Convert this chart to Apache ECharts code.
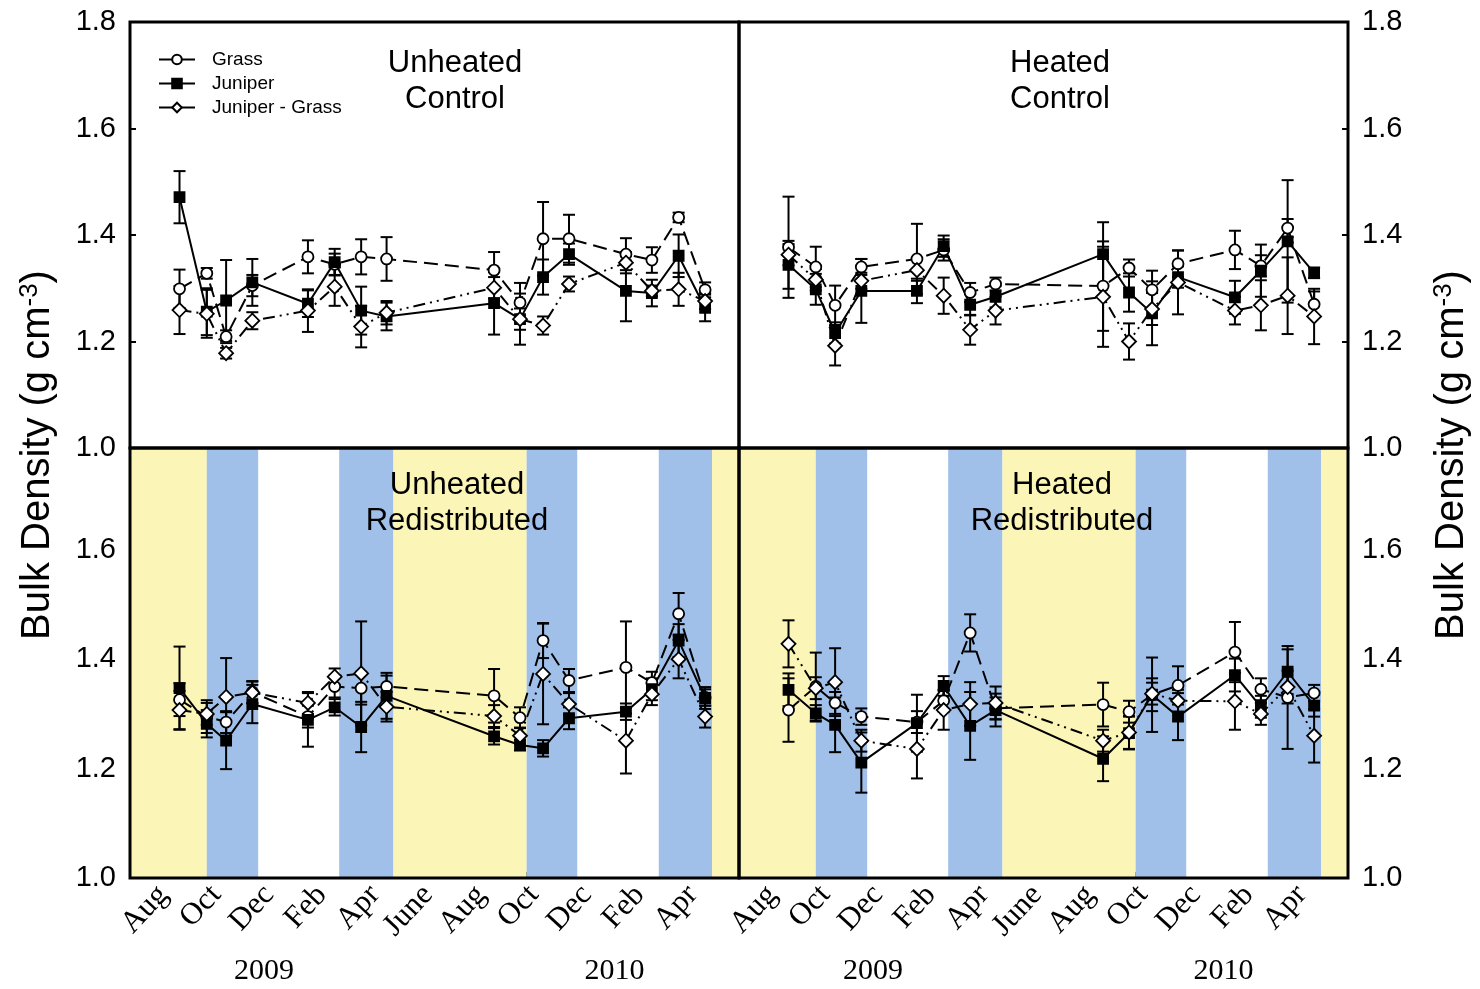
<!DOCTYPE html>
<html>
<head>
<meta charset="utf-8">
<script src="https://cdn.jsdelivr.net/npm/echarts@6/dist/echarts.min.js"></script>
<style>
  html, body { margin: 0; padding: 0; background: #fff; }
  #chart { width: 1480px; height: 989px; }
</style>
</head>
<body>
<div id="chart"></div>
<script>
// Sampling dates, in months counted from 1 Jan 2009 (7 = Aug 2009)
const sampleMonths = [7.87, 8.90, 9.63, 10.62, 12.72, 13.73, 14.73, 15.69, 19.75, 20.73, 21.60, 22.58, 24.73, 25.71, 26.72, 27.72];

// Axis ticks and labels
const monthTicks = [7, 8, 9, 10, 11, 12, 13, 14, 15, 16, 17, 18, 19, 20, 21, 22, 23, 24, 25, 26, 27, 28];
const monthLabelValues = [7, 9, 11, 13, 15, 17, 19, 21, 23, 25, 27];
const monthLabelNames = ['Aug', 'Oct', 'Dec', 'Feb', 'Apr', 'June', 'Aug', 'Oct', 'Dec', 'Feb', 'Apr'];
const yearLabelValues = [11.06, 24.3];
const yearLabelNames = ['2009', '2010'];
const topYTicks = [1.0, 1.2, 1.4, 1.6, 1.8];
const bottomYTicks = [1.0, 1.2, 1.4, 1.6];

// Season shading for the redistributed panels: [start month, end month, season]
const seasonBands = [
  [6, 8.9, 'summer'], [8.9, 10.85, 'fall'], [10.85, 13.9, 'winter'], [13.9, 15.95, 'spring'],
  [15.95, 20.98, 'summer'], [20.98, 22.9, 'fall'], [22.9, 25.97, 'winter'], [25.97, 27.98, 'spring'],
  [27.98, 29, 'summer']
];
const seasonColors = { summer: '#FBF6B7', fall: '#A0C0E9', winter: '#FFFFFF', spring: '#A0C0E9' };

// Unheated Control: means and standard errors
const ucGrass = [1.299, 1.328, 1.209, 1.305, 1.359, 1.345, 1.359, 1.355, 1.334, 1.273, 1.393, 1.393, 1.364, 1.353, 1.433, 1.297];
const ucGrassErr = [0.036, 0.010, 0.012, 0.020, 0.031, 0.020, 0.033, 0.041, 0.034, 0.037, 0.069, 0.045, 0.030, 0.024, 0.009, 0.014];
const ucJuniper = [1.471, 1.256, 1.277, 1.311, 1.271, 1.349, 1.258, 1.247, 1.272, 1.242, 1.321, 1.364, 1.295, 1.291, 1.361, 1.263];
const ucJuniperErr = [0.049, 0.044, 0.076, 0.044, 0.025, 0.025, 0.045, 0.026, 0.059, 0.048, 0.033, 0.020, 0.057, 0.025, 0.040, 0.025];
const ucJunGrass = [1.259, 1.252, 1.178, 1.239, 1.258, 1.303, 1.228, 1.254, 1.301, 1.242, 1.230, 1.308, 1.348, 1.295, 1.298, 1.276];
const ucJunGrassErr = [0.045, 0.045, 0.010, 0.016, 0.040, 0.036, 0.039, 0.022, 0.020, 0.020, 0.017, 0.014, 0.020, 0.010, 0.031, 0.015];

// Heated Control
const hcGrass = [1.377, 1.340, 1.268, 1.340, 1.355, 1.372, 1.292, 1.308, 1.304, 1.338, 1.297, 1.346, 1.372, 1.342, 1.413, 1.270];
const hcGrassErr = [0.095, 0.038, 0.037, 0.015, 0.066, 0.020, 0.018, 0.012, 0.084, 0.016, 0.036, 0.025, 0.036, 0.020, 0.017, 0.024];
const hcJuniper = [1.344, 1.298, 1.216, 1.295, 1.295, 1.379, 1.269, 1.284, 1.364, 1.292, 1.253, 1.321, 1.283, 1.333, 1.388, 1.329];
const hcJuniperErr = [0.045, 0.029, 0.020, 0.060, 0.023, 0.020, 0.020, 0.020, 0.060, 0.036, 0.060, 0.020, 0.031, 0.049, 0.115, 0.010];
const hcJunGrass = [1.363, 1.316, 1.192, 1.314, 1.334, 1.286, 1.222, 1.258, 1.284, 1.200, 1.261, 1.311, 1.258, 1.268, 1.286, 1.247];
const hcJunGrassErr = [0.020, 0.020, 0.037, 0.015, 0.020, 0.034, 0.028, 0.026, 0.094, 0.034, 0.030, 0.060, 0.026, 0.047, 0.072, 0.052];

// Unheated Redistributed
const urGrass = [1.326, 1.295, 1.285, 1.340, 1.295, 1.350, 1.347, 1.350, 1.333, 1.293, 1.434, 1.361, 1.385, 1.357, 1.483, 1.330];
const urGrassErr = [0.030, 0.030, 0.020, 0.020, 0.020, 0.020, 0.030, 0.020, 0.049, 0.019, 0.032, 0.021, 0.084, 0.020, 0.038, 0.015];
const urJuniper = [1.347, 1.282, 1.251, 1.318, 1.289, 1.312, 1.276, 1.333, 1.259, 1.243, 1.237, 1.292, 1.304, 1.345, 1.434, 1.329];
const urJuniperErr = [0.076, 0.025, 0.052, 0.035, 0.049, 0.015, 0.046, 0.042, 0.015, 0.010, 0.015, 0.020, 0.015, 0.020, 0.030, 0.020];
const urJunGrass = [1.307, 1.300, 1.331, 1.339, 1.320, 1.368, 1.374, 1.313, 1.296, 1.260, 1.373, 1.318, 1.251, 1.336, 1.400, 1.295];
const urJunGrassErr = [0.035, 0.020, 0.071, 0.020, 0.020, 0.015, 0.095, 0.027, 0.020, 0.015, 0.092, 0.020, 0.060, 0.020, 0.035, 0.020];

// Heated Redistributed
const hrGrass = [1.307, 1.350, 1.320, 1.295, 1.285, 1.324, 1.448, 1.310, 1.317, 1.304, 1.335, 1.352, 1.413, 1.345, 1.330, 1.338];
const hrGrassErr = [0.058, 0.062, 0.020, 0.015, 0.020, 0.020, 0.034, 0.020, 0.040, 0.020, 0.030, 0.035, 0.055, 0.020, 0.094, 0.015];
const hrJuniper = [1.344, 1.301, 1.280, 1.211, 1.283, 1.351, 1.278, 1.307, 1.218, 1.265, 1.335, 1.295, 1.371, 1.313, 1.377, 1.315];
const hrJuniperErr = [0.030, 0.015, 0.050, 0.055, 0.052, 0.018, 0.062, 0.030, 0.041, 0.030, 0.068, 0.043, 0.030, 0.020, 0.041, 0.020];
const hrJunGrass = [1.428, 1.347, 1.358, 1.251, 1.236, 1.307, 1.318, 1.320, 1.251, 1.266, 1.337, 1.324, 1.323, 1.300, 1.349, 1.260];
const hrJunGrassErr = [0.043, 0.020, 0.062, 0.020, 0.054, 0.036, 0.040, 0.030, 0.020, 0.030, 0.020, 0.020, 0.052, 0.020, 0.030, 0.049];

// ---- layout ----
const SANS = '"Liberation Sans", Arial, Helvetica, sans-serif';
const SERIF = '"Liberation Serif", "Times New Roman", serif';
const X_MIN = 6, X_MAX = 29;
// rotated month names hang slightly to the right of their tick
const MONTH_LABEL_SHIFT = 0.25;
const gridBoxes = [
  { left: 130, top: 22, width: 609, height: 426 },   // top-left
  { left: 739, top: 22, width: 609, height: 426 },   // top-right
  { left: 130, top: 448, width: 609, height: 430 },  // bottom-left
  { left: 739, top: 448, width: 609, height: 430 }   // bottom-right
];
const yRanges = [[1.0, 1.8], [1.0, 1.8], [1.0, 1.786], [1.0, 1.786]];

const panels = [
  { grid: 0, title: 'Unheated\nControl', tx: 455, ty: 81, shaded: false,
    sets: { 'Grass': [ucGrass, ucGrassErr], 'Juniper': [ucJuniper, ucJuniperErr], 'Juniper - Grass': [ucJunGrass, ucJunGrassErr] } },
  { grid: 1, title: 'Heated\nControl', tx: 1060, ty: 81, shaded: false,
    sets: { 'Grass': [hcGrass, hcGrassErr], 'Juniper': [hcJuniper, hcJuniperErr], 'Juniper - Grass': [hcJunGrass, hcJunGrassErr] } },
  { grid: 2, title: 'Unheated\nRedistributed', tx: 457, ty: 503, shaded: true,
    sets: { 'Grass': [urGrass, urGrassErr], 'Juniper': [urJuniper, urJuniperErr], 'Juniper - Grass': [urJunGrass, urJunGrassErr] } },
  { grid: 3, title: 'Heated\nRedistributed', tx: 1062, ty: 503, shaded: true,
    sets: { 'Grass': [hrGrass, hrGrassErr], 'Juniper': [hrJuniper, hrJuniperErr], 'Juniper - Grass': [hrJunGrass, hrJunGrassErr] } }
];

const styles = {
  'Grass':           { symbol: 'circle',  size: 11, fill: '#fff', dash: [14, 7] },
  'Juniper':         { symbol: 'rect',    size: 10, fill: '#000', dash: 'solid' },
  'Juniper - Grass': { symbol: 'diamond', size: 14, fill: '#fff', dash: [12, 5, 2, 5, 2, 5] }
};
const names = ['Grass', 'Juniper', 'Juniper - Grass'];

// ---- renderers ----
function renderBand(params, api) {
  const cs = params.coordSys;
  const x0 = api.coord([api.value(0), 1.0])[0];
  const x1 = api.coord([api.value(1), 1.0])[0];
  return {
    type: 'rect',
    shape: { x: x0, y: cs.y, width: x1 - x0, height: cs.height },
    style: { fill: api.visual('color') }
  };
}

function renderErrorBar(params, api) {
  const x = api.value(0);
  const pLo = api.coord([x, api.value(1)]);
  const pHi = api.coord([x, api.value(2)]);
  const half = 6;
  const st = { stroke: '#000', lineWidth: 2 };
  return {
    type: 'group',
    children: [
      { type: 'line', shape: { x1: pLo[0], y1: pLo[1], x2: pHi[0], y2: pHi[1] }, style: st },
      { type: 'line', shape: { x1: pLo[0] - half, y1: pLo[1], x2: pLo[0] + half, y2: pLo[1] }, style: st },
      { type: 'line', shape: { x1: pHi[0] - half, y1: pHi[1], x2: pHi[0] + half, y2: pHi[1] }, style: st }
    ]
  };
}

// ---- axes ----
const grids = gridBoxes.map(b => Object.assign({ outerBoundsMode: 'none', containLabel: false, show: false }, b));

const xAxes = gridBoxes.map((b, i) => ({
  type: 'value', gridIndex: i, min: X_MIN, max: X_MAX, position: 'bottom',
  axisLine: { show: false },
  splitLine: { show: false },
  axisTick: { show: i >= 2, inside: true, length: 6, customValues: monthTicks, lineStyle: { color: '#000', width: 2 } },
  axisLabel: {
    show: i >= 2, customValues: monthLabelValues.map(v => v + MONTH_LABEL_SHIFT), rotate: 47, margin: 12,
    fontFamily: SERIF, fontSize: 31, color: '#000',
    formatter: v => monthLabelNames[monthLabelValues.indexOf(Math.round(v - MONTH_LABEL_SHIFT))] || ''
  }
}));
// year captions under the bottom panels
[2, 3].forEach(g => xAxes.push({
  type: 'value', gridIndex: g, min: X_MIN, max: X_MAX, position: 'bottom',
  axisLine: { show: false }, axisTick: { show: false }, splitLine: { show: false },
  axisLabel: {
    customValues: yearLabelValues, margin: 78, fontFamily: SERIF, fontSize: 30, color: '#000',
    formatter: v => yearLabelNames[yearLabelValues.findIndex(y => Math.abs(y - v) < 1e-6)] || ''
  }
}));

const yAxes = gridBoxes.map((b, i) => {
  const ticks = i < 2 ? topYTicks : bottomYTicks;
  return {
    type: 'value', gridIndex: i, min: yRanges[i][0], max: yRanges[i][1],
    position: (i % 2 === 0) ? 'left' : 'right',
    axisLine: { show: false },
    splitLine: { show: false },
    axisTick: { show: true, inside: true, length: 6, customValues: ticks, lineStyle: { color: '#000', width: 2 } },
    axisLabel: {
      customValues: ticks, margin: 14, fontFamily: SANS, fontSize: 29, color: '#000',
      formatter: v => v.toFixed(1)
    }
  };
});

// ---- series ----
const lineSeries = [], markerSeries = [], errorSeries = [], bandSeries = [];
panels.forEach(p => {
  names.forEach(n => {
    const [vals, errs] = p.sets[n];
    const s = styles[n];
    const pts = sampleMonths.map((m, i) => [m, vals[i]]);
    lineSeries.push({
      type: 'line', name: n, xAxisIndex: p.grid, yAxisIndex: p.grid, z: 4,
      data: pts, showSymbol: false, symbol: s.symbol, symbolSize: s.size,
      itemStyle: { color: s.fill, borderColor: '#000', borderWidth: 1.8 },
      lineStyle: { color: '#000', width: 2, type: s.dash },
      silent: true, animation: false
    });
    markerSeries.push({
      type: 'scatter', name: n, xAxisIndex: p.grid, yAxisIndex: p.grid, z: 6,
      data: pts, symbol: s.symbol, symbolSize: s.size,
      itemStyle: { color: s.fill, borderColor: '#000', borderWidth: 1.8, opacity: 1 },
      silent: true, animation: false
    });
    errorSeries.push({
      type: 'custom', name: n, xAxisIndex: p.grid, yAxisIndex: p.grid, z: 3,
      renderItem: renderErrorBar,
      data: sampleMonths.map((m, i) => [m, vals[i] - errs[i], vals[i] + errs[i]]),
      silent: true, animation: false
    });
  });
  if (p.shaded) {
    bandSeries.push({
      type: 'custom', xAxisIndex: p.grid, yAxisIndex: p.grid, z: 1,
      renderItem: renderBand,
      data: seasonBands.map(b => ({ value: [b[0], b[1]], itemStyle: { color: seasonColors[b[2]] } })),
      silent: true, animation: false
    });
  }
});

// ---- frames, titles, axis names ----
const graphics = [];
gridBoxes.forEach(b => graphics.push({
  type: 'rect', z: 100, silent: true,
  shape: { x: b.left, y: b.top, width: b.width, height: b.height },
  style: { fill: null, stroke: '#000', lineWidth: 3 }
}));
panels.forEach(p => graphics.push({
  type: 'text', z: 100, x: p.tx, y: p.ty, silent: true,
  style: { text: p.title, font: '31px ' + SANS, fill: '#000', align: 'center', verticalAlign: 'middle', lineHeight: 36 }
}));
[38, 1452].forEach(x => graphics.push({
  type: 'text', z: 100, x: x, y: 455, rotation: Math.PI / 2, silent: true,
  style: {
    text: 'Bulk Density (g cm{sup|-3})', font: '40px ' + SANS, fill: '#000',
    align: 'center', verticalAlign: 'middle',
    rich: { sup: { font: '26px ' + SANS, fill: '#000', verticalAlign: 'top', padding: [0, 0, 17, 0] } }
  }
}));

const option = {
  backgroundColor: '#fff',
  animation: false,
  grid: grids,
  xAxis: xAxes,
  yAxis: yAxes,
  legend: {
    data: names, orient: 'vertical', left: 153, top: 45,
    itemWidth: 36, itemHeight: 12, itemGap: 5,
    textStyle: { fontFamily: SANS, fontSize: 19, color: '#000', padding: [0, 0, 0, 12] },
    lineStyle: { type: 'solid', width: 2 },
    selectedMode: false
  },
  graphic: graphics,
  series: [...lineSeries, ...bandSeries, ...errorSeries, ...markerSeries]
};

const chart = echarts.init(document.getElementById('chart'), null, { renderer: 'canvas' });
chart.setOption(option);
</script>
</body>
</html>
